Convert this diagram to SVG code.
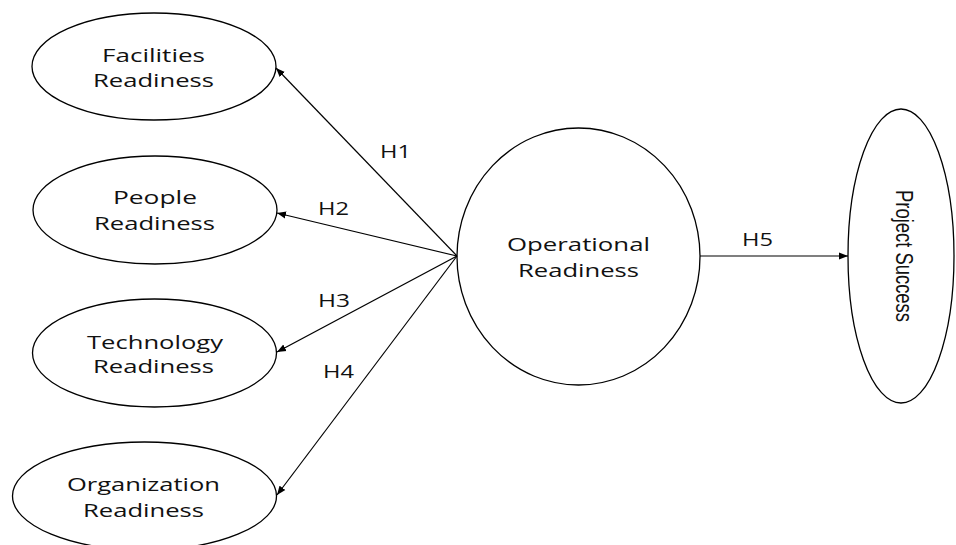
<svg xmlns="http://www.w3.org/2000/svg" width="956" height="545" viewBox="0 0 956 545">
<style>
.n{fill:#fff;stroke:#000;stroke-width:1.3}
.t{font-family:"Open Sans","DejaVu Sans",sans-serif;font-size:19px;fill:#111;text-anchor:middle}
.c{stroke:#000;stroke-width:1.2;fill:none;marker-end:url(#ah)}
</style>
<defs>
<marker id="ah" viewBox="0 0 10 10" refX="10" refY="5" markerWidth="9" markerHeight="9" markerUnits="userSpaceOnUse" orient="auto">
<path d="M0,1 L10,5 L0,9 Z" fill="#000"/>
</marker>
</defs>
<rect width="956" height="545" fill="#fff"/>
<g id="facilities"><ellipse class="n" cx="154" cy="66.5" rx="122" ry="53.5"/><text class="t" x="153.5" y="62" textLength="103" lengthAdjust="spacingAndGlyphs">Facilities</text><text class="t" x="153.5" y="87" textLength="121" lengthAdjust="spacingAndGlyphs">Readiness</text></g>
<g id="people"><ellipse class="n" cx="155" cy="210" rx="122" ry="54"/><text class="t" x="155" y="204" textLength="84" lengthAdjust="spacingAndGlyphs">People</text><text class="t" x="154.5" y="230" textLength="121" lengthAdjust="spacingAndGlyphs">Readiness</text></g>
<g id="technology"><ellipse class="n" cx="154.5" cy="353" rx="122" ry="54"/><text class="t" x="155" y="349" textLength="136" lengthAdjust="spacingAndGlyphs">Technology</text><text class="t" x="153.5" y="373" textLength="121" lengthAdjust="spacingAndGlyphs">Readiness</text></g>
<g id="organization"><ellipse class="n" cx="144.5" cy="496" rx="132" ry="54"/><text class="t" x="143.5" y="491" textLength="153" lengthAdjust="spacingAndGlyphs">Organization</text><text class="t" x="143.5" y="517" textLength="121" lengthAdjust="spacingAndGlyphs">Readiness</text></g>
<g id="operational"><ellipse class="n" cx="578.5" cy="256.5" rx="121.5" ry="128.5"/><text class="t" x="578.5" y="251" textLength="143" lengthAdjust="spacingAndGlyphs">Operational</text><text class="t" x="578.5" y="277" textLength="121" lengthAdjust="spacingAndGlyphs">Readiness</text></g>
<g id="project"><ellipse class="n" cx="901" cy="256" rx="53" ry="147"/><text x="0" y="0" transform="translate(896,256) rotate(90)" style="font-family:'Liberation Sans',Arial,sans-serif;font-size:23px;fill:#111;text-anchor:middle" textLength="132" lengthAdjust="spacingAndGlyphs">Project Success</text></g>
<g id="connectors">
<line class="c" x1="457" y1="256" x2="276" y2="68"/>
<line class="c" x1="457" y1="256" x2="277" y2="213"/>
<line class="c" x1="457" y1="256" x2="277" y2="352"/>
<line class="c" x1="457" y1="256" x2="277" y2="495"/>
<line class="c" x1="700" y1="256" x2="848" y2="256"/>
<text class="t" x="395.5" y="158" textLength="31" lengthAdjust="spacingAndGlyphs">H1</text>
<text class="t" x="333.5" y="215" textLength="31" lengthAdjust="spacingAndGlyphs">H2</text>
<text class="t" x="334" y="307" textLength="32" lengthAdjust="spacingAndGlyphs">H3</text>
<text class="t" x="338.5" y="378" textLength="31" lengthAdjust="spacingAndGlyphs">H4</text>
<text class="t" x="757.5" y="246" textLength="31" lengthAdjust="spacingAndGlyphs">H5</text>
</g>
</svg>
